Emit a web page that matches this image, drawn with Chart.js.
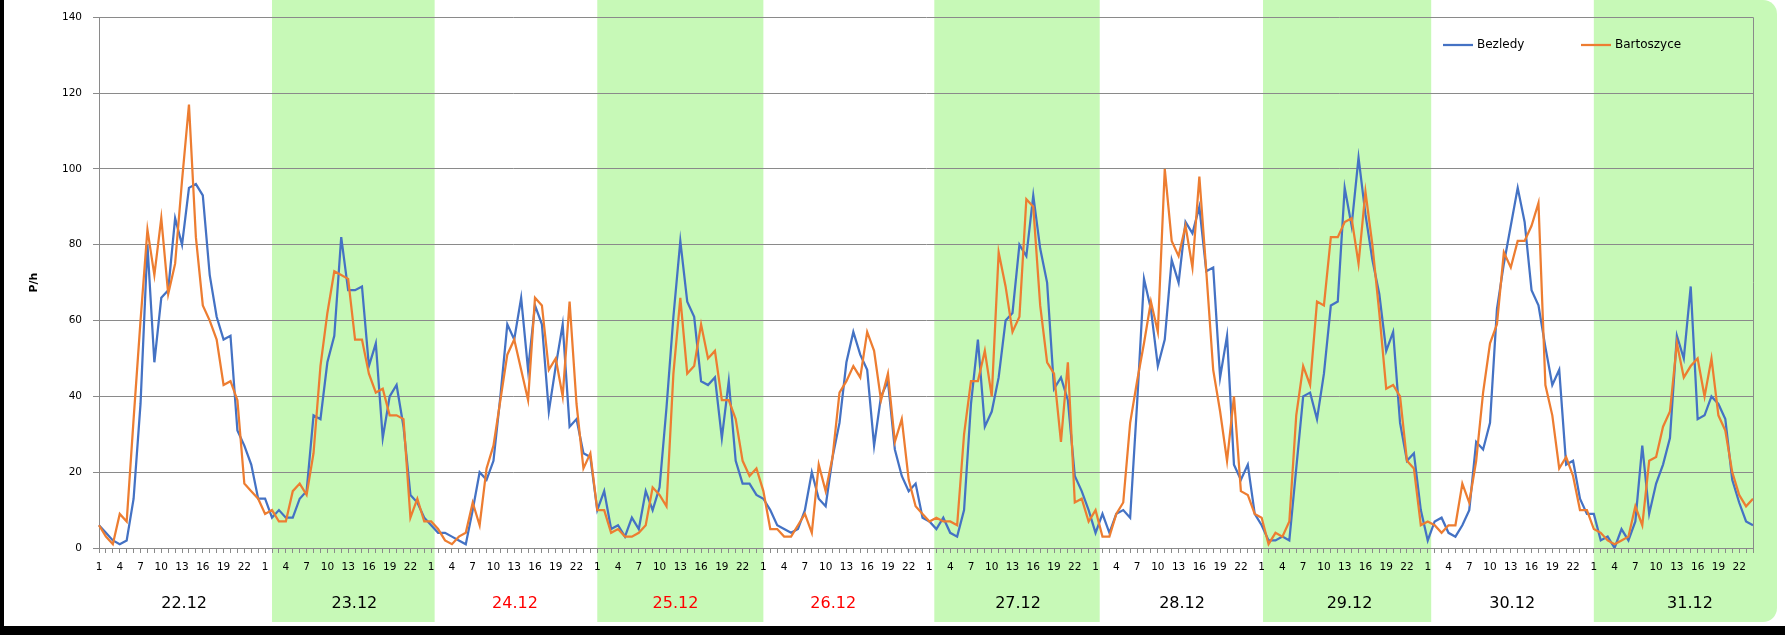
<!DOCTYPE html>
<html>
<head>
<meta charset="utf-8">
<script src="https://cdn.jsdelivr.net/npm/chart.js@4.4.0/dist/chart.umd.min.js"></script>
<style>
  html, body { margin: 0; padding: 0; background: #fff; }
</style>
</head>
<body>
<canvas id="trafficChart" width="1785" height="635"></canvas>
<script>
// ---- data (vehicles per hour) ----
const days = ['22.12', '23.12', '24.12', '25.12', '26.12', '27.12', '28.12', '29.12', '30.12', '31.12'];
const holidays = ['24.12', '25.12', '26.12'];
const shadedDays = ['23.12', '25.12', '27.12', '29.12', '31.12'];
const hours = [1, 2, 3, 4, 5, 6, 7, 8, 9, 10, 11, 12, 13, 14, 15, 16, 17, 18, 19, 20, 21, 22, 23, 24];
const yTicks = [0, 20, 40, 60, 80, 100, 120, 140];

// one row per day, hours 1..24
const bezledy = [
    [6, 4, 2, 1, 2, 13, 38, 80, 49, 66, 68, 87, 80, 95, 96, 93, 72, 61, 55, 56, 31, 27, 22, 13],
    [13, 8, 10, 8, 8, 13, 15, 35, 34, 49, 56, 82, 68, 68, 69, 48, 54, 29, 40, 43, 32, 14, 12, 8],
    [6, 4, 4, 3, 2, 1, 10, 20, 18, 23, 40, 59, 55, 66, 47, 64, 59, 36, 48, 59, 32, 34, 25, 24],
    [10, 15, 5, 6, 3, 8, 5, 15, 10, 16, 37, 61, 81, 65, 61, 44, 43, 45, 29, 44, 23, 17, 17, 14],
    [13, 10, 6, 5, 4, 5, 10, 20, 13, 11, 24, 33, 49, 57, 51, 47, 27, 40, 44, 26, 19, 15, 17, 8],
    [7, 5, 8, 4, 3, 10, 38, 55, 32, 36, 45, 60, 62, 80, 77, 93, 79, 70, 42, 45, 39, 19, 15, 10],
    [4, 9, 4, 9, 10, 8, 38, 71, 63, 48, 55, 76, 70, 86, 83, 90, 73, 74, 45, 56, 22, 18, 22, 9],
    [6, 2, 2, 3, 2, 21, 40, 41, 34, 46, 64, 65, 95, 85, 103, 88, 76, 67, 52, 57, 33, 23, 25, 10],
    [2, 7, 8, 4, 3, 6, 10, 28, 26, 33, 63, 75, 85, 95, 86, 68, 64, 53, 43, 47, 22, 23, 13, 9],
    [9, 2, 3, 0, 5, 2, 7, 27, 9, 17, 22, 29, 56, 50, 69, 34, 35, 40, 38, 34, 18, 12, 7, 6]
];

const bartoszyce = [
    [6, 3, 1, 9, 7, 34, 60, 84, 72, 87, 67, 75, 97, 117, 82, 64, 60, 55, 43, 44, 39, 17, 15, 13],
    [9, 10, 7, 7, 15, 17, 14, 25, 48, 62, 73, 72, 71, 55, 55, 46, 41, 42, 35, 35, 34, 8, 13, 7],
    [7, 5, 2, 1, 3, 4, 12, 6, 21, 27, 39, 51, 55, 47, 39, 66, 64, 47, 50, 40, 65, 38, 21, 25],
    [10, 10, 4, 5, 3, 3, 4, 6, 16, 14, 11, 46, 66, 46, 48, 59, 50, 52, 39, 39, 34, 23, 19, 21],
    [15, 5, 5, 3, 3, 6, 9, 4, 22, 15, 24, 41, 44, 48, 45, 57, 52, 39, 46, 28, 34, 18, 11, 9],
    [7, 8, 7, 7, 6, 30, 44, 44, 52, 40, 78, 69, 57, 61, 92, 90, 64, 49, 46, 28, 49, 12, 13, 7],
    [10, 3, 3, 9, 12, 33, 44, 54, 65, 57, 100, 81, 77, 85, 74, 98, 73, 47, 36, 23, 40, 15, 14, 9],
    [8, 1, 4, 3, 7, 35, 48, 43, 65, 64, 82, 82, 86, 87, 75, 94, 80, 62, 42, 43, 40, 23, 21, 6],
    [7, 6, 4, 6, 6, 17, 12, 23, 41, 54, 59, 78, 74, 81, 81, 85, 91, 43, 35, 21, 24, 19, 10, 10],
    [5, 4, 2, 1, 2, 3, 11, 6, 23, 24, 32, 36, 54, 45, 48, 50, 40, 50, 35, 31, 20, 14, 11, 13]
];

// ---- layout / style ----
const BLUE = '#4472C4';
const ORANGE = '#ED7D31';
const GRID = '#8a8a8a';
const BAND = '#c7f9b7';
const FONT = 'DejaVu Sans';

// band edges in hour-index units (the boxes were placed by hand in the original)
const bandEdges = {
    '23.12': [25.0, 48.5],
    '25.12': [72.0, 96.0],
    '27.12': [120.7, 144.6],
    '29.12': [168.2, 192.5],
    '31.12': [216.0, null]
};
// where each date caption sits inside its day, in hours
const dayLabelShift = [12.3, 12.9, 12.1, 11.3, 10.1, 12.8, 12.5, 12.7, 12.2, 13.9];

const labels = [];
days.forEach(() => hours.forEach(h => labels.push(String(h))));

const decorPlugin = {
    id: 'decor',
    beforeDraw(chart) {
        const { ctx, chartArea, scales: { x } } = chart;
        ctx.save();
        ctx.fillStyle = '#fff';
        ctx.fillRect(0, 0, chart.width, chart.height);

        ctx.fillStyle = BAND;
        shadedDays.forEach(d => {
            const [a, b] = bandEdges[d];
            const left = x.getPixelForValue(a);
            const right = b === null ? chartArea.right + 24 : x.getPixelForValue(b);
            ctx.beginPath();
            if (b === null) {
                ctx.roundRect(left, 0, right - left, 622, [0, 14, 14, 0]);
            } else {
                ctx.rect(left, 0, right - left, 622);
            }
            ctx.fill();
        });
        ctx.restore();
    },
    afterDraw(chart) {
        const { ctx, chartArea, scales: { x } } = chart;
        ctx.save();

        // right edge of the plot area
        ctx.strokeStyle = GRID;
        ctx.lineWidth = 1;
        ctx.beginPath();
        ctx.moveTo(Math.round(chartArea.right) + 0.5, chartArea.top);
        ctx.lineTo(Math.round(chartArea.right) + 0.5, chartArea.bottom);
        ctx.stroke();

        // date captions under the hour ticks
        ctx.font = `16px "${FONT}"`;
        ctx.textAlign = 'center';
        ctx.textBaseline = 'middle';
        days.forEach((d, i) => {
            ctx.fillStyle = holidays.includes(d) ? '#ff0000' : '#000';
            ctx.fillText(d, x.getPixelForValue(i * hours.length + dayLabelShift[i]), 604);
        });

        // legend
        const legendX = [chartArea.right - 310, chartArea.right - 172];
        ctx.font = `12px "${FONT}"`;
        ctx.textAlign = 'left';
        chart.data.datasets.forEach((ds, i) => {
            ctx.strokeStyle = ds.borderColor;
            ctx.lineWidth = 2.25;
            ctx.beginPath();
            ctx.moveTo(legendX[i], 45);
            ctx.lineTo(legendX[i] + 30, 45);
            ctx.stroke();
            ctx.fillStyle = '#000';
            ctx.fillText(ds.label, legendX[i] + 34, 45);
        });

        // black frame on the left and bottom
        ctx.fillStyle = '#000';
        ctx.fillRect(0, 0, 4, chart.height);
        ctx.fillRect(0, 626, chart.width, chart.height - 626);
        ctx.restore();
    }
};

new Chart(document.getElementById('trafficChart'), {
    type: 'line',
    data: {
        labels: labels,
        datasets: [{
            label: 'Bezledy',
            data: bezledy.flat(),
            borderColor: BLUE,
            borderWidth: 2.25,
            pointRadius: 0,
            tension: 0,
            order: 1
        }, {
            label: 'Bartoszyce',
            data: bartoszyce.flat(),
            borderColor: ORANGE,
            borderWidth: 2.25,
            pointRadius: 0,
            tension: 0,
            order: 0
        }]
    },
    options: {
        responsive: false,
        animation: false,
        layout: { padding: { left: 0, right: 32, top: 17, bottom: 0 } },
        plugins: {
            legend: { display: false },
            tooltip: { enabled: false }
        },
        scales: {
            x: {
                offset: false,
                grid: { drawOnChartArea: false, drawTicks: true, tickLength: 5, color: GRID },
                border: { color: GRID },
                ticks: {
                    autoSkip: false,
                    maxRotation: 0,
                    padding: 8,
                    color: '#000',
                    font: { family: FONT, size: 10.5 },
                    callback: function (v, i) {
                        return i % 3 === 0 ? this.getLabelForValue(v) : '';
                    }
                },
                afterFit: s => { s.height = 87; }
            },
            y: {
                min: yTicks[0],
                max: yTicks[yTicks.length - 1],
                grid: { color: GRID, tickLength: 6 },
                border: { color: GRID },
                ticks: {
                    stepSize: 20,
                    padding: 11,
                    color: '#000',
                    font: { family: FONT, size: 10.5 }
                },
                title: {
                    display: true,
                    text: 'P/h',
                    color: '#000',
                    font: { family: FONT, size: 11, weight: 'bold' },
                    padding: { top: 28, bottom: 0 }
                },
                afterFit: s => { s.width = 99; }
            }
        }
    },
    plugins: [decorPlugin]
});
</script>
</body>
</html>
